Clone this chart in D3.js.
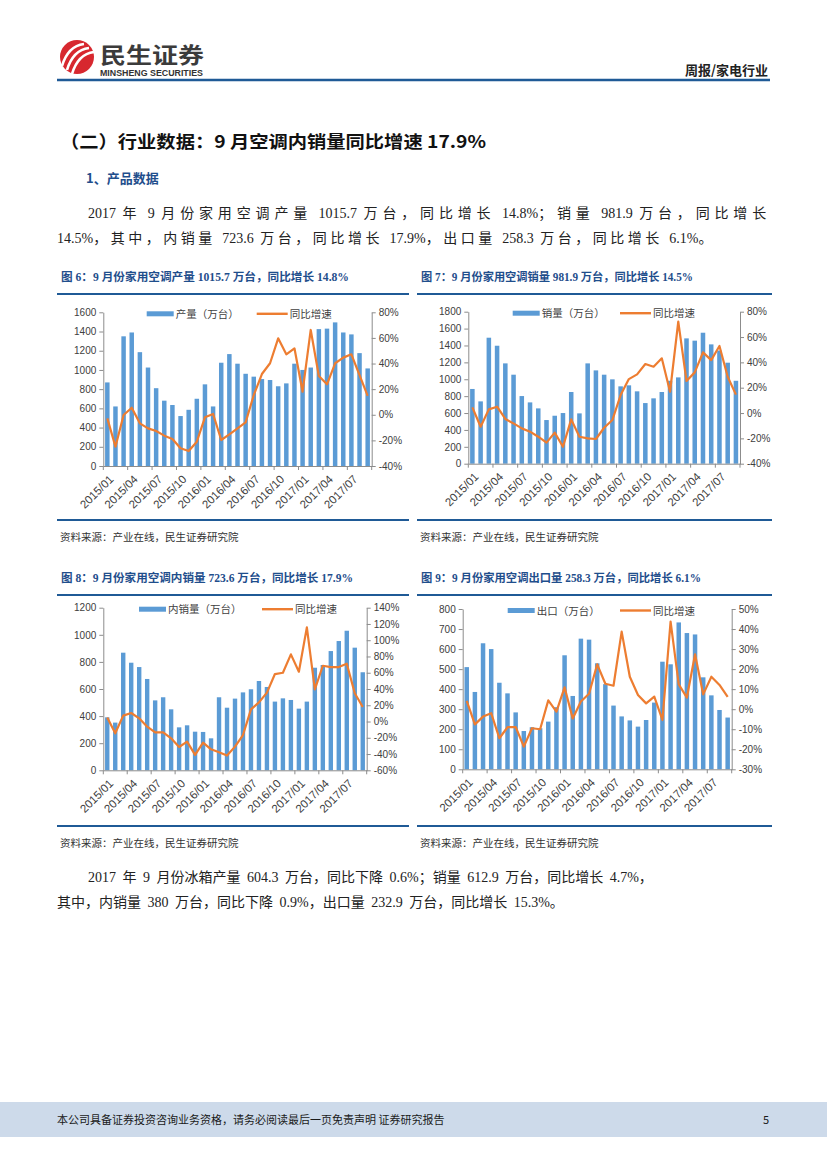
<!DOCTYPE html>
<html>
<head>
<meta charset="utf-8">
<script src="https://cdn.jsdelivr.net/npm/d3@7"></script>
<style>
  body { margin: 0; background: #fff; }
  svg text { font-family: "Noto Sans CJK SC", sans-serif; }
</style>
</head>
<body>
<div class="canvas"></div>
<script>
// ---- data ----
const months = [
  '2015/01','2015/02','2015/03','2015/04','2015/05','2015/06','2015/07','2015/08','2015/09','2015/10','2015/11','2015/12',
  '2016/01','2016/02','2016/03','2016/04','2016/05','2016/06','2016/07','2016/08','2016/09','2016/10','2016/11','2016/12',
  '2017/01','2017/02','2017/03','2017/04','2017/05','2017/06','2017/07','2017/08','2017/09'
];
const xTickLabels = ['2015/01','2015/04','2015/07','2015/10','2016/01','2016/04','2016/07','2016/10','2017/01','2017/04','2017/07'];

// 图6 产量
const acProd = [870,620,1350,1390,1185,1025,810,680,635,520,585,700,
  850,620,1075,1165,1065,960,930,905,895,830,860,1065,
  1000,1025,1425,1430,1495,1390,1370,1175,1015.7];
const acProdYoy = [-2.8,-24.9,-0.2,5.5,-6.7,-10.6,-12.7,-16.3,-18.9,-26.2,-28.3,-21,
  -2,0.6,-19.7,-15.3,-10.6,-5.9,15.4,31.8,40.2,59.7,47.2,51.9,
  18,66.2,30.3,23.8,40.2,44.6,47.2,31,14.8];
const prodTicks = [0,200,400,600,800,1000,1200,1400,1600];
const prodYoyTicks = [-40,-20,0,20,40,60,80];

// 图7 销量
const acSales = [885,738,1492,1397,1188,1054,801,726,655,517,568,600,
  849,596,1188,1105,1054,999,916,928,857,718,774,849,
  982,1022,1484,1457,1551,1413,1340,1196,981.9];
const acSalesYoy = [4.5,-10.8,2.9,5,-4.7,-8.2,-12.1,-14.7,-18.7,-23.4,-15.5,-26.6,
  -5,-18.7,-20,-20.5,-11.6,-5.5,14.2,26.8,30.5,38.7,36.6,43.2,
  16.8,72.1,25.3,32.1,47.9,41.8,52.9,28.7,14.5];
const salesTicks = [0,200,400,600,800,1000,1200,1400,1600,1800];
const salesYoyTicks = [-40,-20,0,20,40,60,80];

// 图8 内销量
const acDomestic = [391,352,868,794,762,674,516,539,450,317,332,285,
  283,236,539,462,529,575,598,659,615,507,531,519,
  455,507,757,777,880,954,1030,905,723.6];
const acDomesticYoy = [4.8,-14.5,7.2,10.5,3.9,-6.3,-13.3,-13.3,-20.7,-31.3,-24.8,-41.1,
  -26,-34.2,-37.9,-41.9,-30.9,-16.6,15,23.6,35.5,58.4,60,82.6,
  61.3,115.8,39.6,68.6,67,67,71.1,34.7,17.9];
const domesticTicks = [0,200,400,600,800,1000,1200];
const domesticYoyTicks = [-60,-40,-20,0,20,40,60,80,100,120,140];

// 图9 出口
const acExport = [510,386,629,600,432,379,284,191,210,205,238,310,
  569,366,652,647,529,425,318,264,244,213,246,333,
  537,524,733,680,673,459,369,296,258.3];
const acExportYoy = [4.1,-7.6,-3.7,-2,-14.5,-9,-8.9,-18.7,-9.5,-10,4.4,-1.2,
  10.9,-4.6,3.8,7.7,22.4,12.7,11.7,38.7,16.2,7.1,2.9,6.3,
  -5.4,43.7,12.4,5.8,27.4,7.4,16.2,12.1,6.1];
const exportTicks = [0,100,200,300,400,500,600,700,800];
const exportYoyTicks = [-30,-20,-10,0,10,20,30,40,50];

// ---- page ----
const BLUE_BAR = '#5b9bd5', ORANGE = '#ed7d31', AXIS = '#8c8c8c', NAVY = '#1f5a96', TXT = '#404040';

const svg = d3.select('.canvas')
  .append('svg')
  .attr('width', 827)
  .attr('height', 1169);

// header
const logo = svg.append('g');
logo.append('circle').attr('cx', 77).attr('cy', 57).attr('r', 17).attr('fill', '#d7282f');
[[-9, 3], [-4, 7], [1, 11]].forEach(([a, b]) => {
  logo.append('path')
    .attr('d', `M${77 + a - 6},${57 + b + 6} Q${77 + a},${57 + b - 14} ${77 + a + 16},${57 + b - 16}`)
    .attr('fill', 'none').attr('stroke', '#fff').attr('stroke-width', 2.6);
});
svg.append('text').attr('x', 100).attr('y', 63)
  .attr('font-size', 22).attr('font-weight', 'bold').attr('fill', '#3b3b3b')
  .attr('textLength', 104).attr('lengthAdjust', 'spacingAndGlyphs').text('民生证券');
svg.append('text').attr('x', 100).attr('y', 75.5)
  .style('font-family', '"Liberation Sans", sans-serif')
  .attr('font-size', 8.5).attr('font-weight', 'bold').attr('fill', '#333')
  .attr('textLength', 103).attr('lengthAdjust', 'spacingAndGlyphs').text('MINSHENG SECURITIES');
svg.append('text').attr('x', 768).attr('y', 75).attr('text-anchor', 'end')
  .attr('font-size', 13).attr('font-weight', 'bold').attr('fill', '#222').text('周报/家电行业');
svg.append('line').attr('x1', 57).attr('x2', 770).attr('y1', 80).attr('y2', 80)
  .attr('stroke', NAVY).attr('stroke-width', 2.5);

// section titles and body text
svg.append('text').attr('x', 60).attr('y', 148)
  .attr('font-size', 17.5).attr('font-weight', 'bold').attr('fill', '#111')
  .attr('textLength', 426).attr('lengthAdjust', 'spacingAndGlyphs')
  .text('（二）行业数据：9 月空调内销量同比增速 17.9%');
svg.append('text').attr('x', 86).attr('y', 183)
  .attr('font-size', 13).attr('font-weight', 'bold').attr('fill', '#1f4e8c')
  .text('1、产品数据');

// justified line: wide word gaps, the rest goes between the Chinese characters
const CJK = /[\u3000-\u9fff\uff00-\uffef]/;
const para = (x, y, w, s) => {
  const t = svg.append('text').attr('x', x).attr('y', y)
    .style('font-family', '"Liberation Serif", "Noto Sans CJK SC", serif')
    .attr('font-size', 14).attr('fill', '#222')
    .attr('word-spacing', 3);
  const runs = s.match(/[\u3000-\u9fff\uff00-\uffef]+|[^\u3000-\u9fff\uff00-\uffef]+/g);
  const spans = runs.map(r => t.append('tspan').text(r).datum(CJK.test(r)));
  const natural = t.node().getComputedTextLength();
  const nCjk = runs.filter(r => CJK.test(r)).join('').length;
  const ls = Math.max(0, (w - natural) / nCjk);
  spans.forEach(sp => { if (sp.datum()) sp.attr('letter-spacing', ls); });
};
para(88, 218, 683, '2017 年 9 月份家用空调产量 1015.7 万台，同比增长 14.8%；销量 981.9 万台，同比增长');
para(57, 243, 659, '14.5%，其中，内销量 723.6 万台，同比增长 17.9%，出口量 258.3 万台，同比增长 6.1%。');
para(88, 882, 543, '2017 年 9 月份冰箱产量 604.3 万台，同比下降 0.6%；销量 612.9 万台，同比增长 4.7%，');
para(57, 907, 492, '其中，内销量 380 万台，同比下降 0.9%，出口量 232.9 万台，同比增长 15.3%。');

// footer
svg.append('rect').attr('x', 0).attr('y', 1102).attr('width', 827).attr('height', 35).attr('fill', '#cddaea');
svg.append('text').attr('x', 57).attr('y', 1124).attr('font-size', 11).attr('fill', '#1a1a1a')
  .text('本公司具备证券投资咨询业务资格，请务必阅读最后一页免责声明 证券研究报告');
svg.append('text').attr('x', 763).attr('y', 1124).attr('font-size', 11).attr('fill', '#1a1a1a').text('5');

// ---- charts ----
function drawChart(cfg) {
  const g = svg.append('g');

  // frame: title, rules, source
  g.append('text').attr('x', cfg.fx + 4).attr('y', cfg.fy)
    .style('font-family', '"Liberation Serif", "Noto Sans CJK SC", serif')
    .attr('font-size', 11.5).attr('font-weight', 'bold').attr('fill', '#1f4e8c')
    .attr('textLength', cfg.titleW).attr('lengthAdjust', 'spacingAndGlyphs')
    .text(cfg.title);
  g.append('line').attr('x1', cfg.fx).attr('x2', cfg.fx + cfg.fw).attr('y1', cfg.fy + 13).attr('y2', cfg.fy + 13)
    .attr('stroke', NAVY).attr('stroke-width', 2);
  g.append('line').attr('x1', cfg.fx).attr('x2', cfg.fx + cfg.fw).attr('y1', cfg.by).attr('y2', cfg.by)
    .attr('stroke', NAVY).attr('stroke-width', 2);
  g.append('text').attr('x', cfg.fx + 3).attr('y', cfg.by + 21)
    .attr('font-size', 10.5).attr('fill', '#333').text('资料来源：产业在线，民生证券研究院');

  const x = d3.scaleBand()
    .domain(months)
    .range([cfg.x0, cfg.x1])
    .paddingInner(0.45)
    .paddingOuter(0.22);
  const yL = d3.scaleLinear().domain(d3.extent(cfg.ticks)).range([cfg.y1, cfg.y0]);
  const yR = d3.scaleLinear().domain(d3.extent(cfg.yoyTicks)).range([cfg.y1, cfg.y0]);

  g.append('g').selectAll('rect')
    .data(cfg.values)
    .enter()
    .append('rect')
    .attr('x', (d, i) => x(months[i]))
    .attr('y', d => yL(d))
    .attr('width', x.bandwidth())
    .attr('height', d => cfg.y1 - yL(d))
    .attr('fill', BLUE_BAR);

  const line = d3.line()
    .x((d, i) => x(months[i]) + x.bandwidth() / 2)
    .y(d => yR(d));
  g.append('path')
    .datum(cfg.yoy)
    .attr('d', line)
    .attr('fill', 'none')
    .attr('stroke', ORANGE)
    .attr('stroke-width', 2.2)
    .attr('stroke-linejoin', 'round');

  // axes
  const leftAxis = d3.axisLeft(yL).tickValues(cfg.ticks).tickSize(4).tickSizeOuter(0).tickPadding(3)
    .tickFormat(d3.format('d'));
  const rightAxis = d3.axisRight(yR).tickValues(cfg.yoyTicks).tickSize(4).tickSizeOuter(0).tickPadding(3)
    .tickFormat(d => d + '%');
  const lg = g.append('g').attr('transform', `translate(${cfg.x0},0)`).call(leftAxis);
  const rg = g.append('g').attr('transform', `translate(${cfg.x1},0)`).call(rightAxis);

  const xAxis = d3.axisBottom(x).tickValues(xTickLabels).tickSize(0).tickSizeOuter(0).tickPadding(0);
  const xg = g.append('g').attr('transform', `translate(0,${cfg.y1})`).call(xAxis);
  // tick marks on the category boundaries
  const half = x.step() * x.paddingInner() / 2;
  xg.selectAll('.bound')
    .data(xTickLabels.concat(['end']))
    .enter()
    .append('line')
    .attr('class', 'bound')
    .attr('x1', d => d === 'end' ? cfg.x1 : x(d) - half - (d === months[0] ? x.step() * x.paddingOuter() - half : 0))
    .attr('x2', d => d === 'end' ? cfg.x1 : x(d) - half - (d === months[0] ? x.step() * x.paddingOuter() - half : 0))
    .attr('y1', 0).attr('y2', 4)
    .attr('stroke', AXIS);

  [lg, rg, xg].forEach(a => {
    a.selectAll('path, line').attr('stroke', AXIS);
    a.selectAll('text')
      .style('font-family', '"Liberation Sans", Arial, sans-serif')
      .attr('font-size', 10).attr('fill', TXT);
  });
  xg.selectAll('.tick text')
    .attr('font-size', 11.5)
    .attr('y', 0)
    .attr('dy', '0.35em')
    .attr('transform', 'translate(4,11) rotate(-45)')
    .attr('text-anchor', 'end');

  // legend
  const ly = cfg.y0 + 1.5;
  g.append('rect').attr('x', cfg.leg[0]).attr('y', ly - 2.5).attr('width', 27).attr('height', 5).attr('fill', BLUE_BAR);
  g.append('text').attr('x', cfg.leg[0] + 29).attr('y', ly + 4).attr('font-size', 10.5).attr('fill', TXT).text(cfg.barName);
  g.append('line').attr('x1', cfg.leg[1]).attr('x2', cfg.leg[1] + 31).attr('y1', ly).attr('y2', ly)
    .attr('stroke', ORANGE).attr('stroke-width', 2.4);
  g.append('text').attr('x', cfg.leg[1] + 33).attr('y', ly + 4).attr('font-size', 10.5).attr('fill', TXT).text('同比增速');
}

drawChart({
  title: '图 6：9 月份家用空调产量 1015.7 万台，同比增长 14.8%', titleW: 288,
  fx: 57, fw: 352, fy: 281, by: 520,
  x0: 103.3, x1: 371.7, y0: 312.3, y1: 466,
  values: acProd, yoy: acProdYoy, ticks: prodTicks, yoyTicks: prodYoyTicks,
  barName: '产量（万台）', leg: [146.7, 256.7]
});
drawChart({
  title: '图 7：9 月份家用空调销量 981.9 万台，同比增长 14.5%', titleW: 272,
  fx: 417, fw: 355, fy: 281, by: 520,
  x0: 468.3, x1: 740, y0: 311.7, y1: 463.7,
  values: acSales, yoy: acSalesYoy, ticks: salesTicks, yoyTicks: salesYoyTicks,
  barName: '销量（万台）', leg: [512.7, 620]
});
drawChart({
  title: '图 8：9 月份家用空调内销量 723.6 万台，同比增长 17.9%', titleW: 292,
  fx: 57, fw: 352, fy: 582, by: 826,
  x0: 103.3, x1: 366.7, y0: 607.7, y1: 770.3,
  values: acDomestic, yoy: acDomesticYoy, ticks: domesticTicks, yoyTicks: domesticYoyTicks,
  barName: '内销量（万台）', leg: [139, 262]
});
drawChart({
  title: '图 9：9 月份家用空调出口量 258.3 万台，同比增长 6.1%', titleW: 280,
  fx: 417, fw: 355, fy: 582, by: 826,
  x0: 462.7, x1: 731.7, y0: 609, y1: 769.3,
  values: acExport, yoy: acExportYoy, ticks: exportTicks, yoyTicks: exportYoyTicks,
  barName: '出口（万台）', leg: [507.7, 620]
});
</script>
</body>
</html>
